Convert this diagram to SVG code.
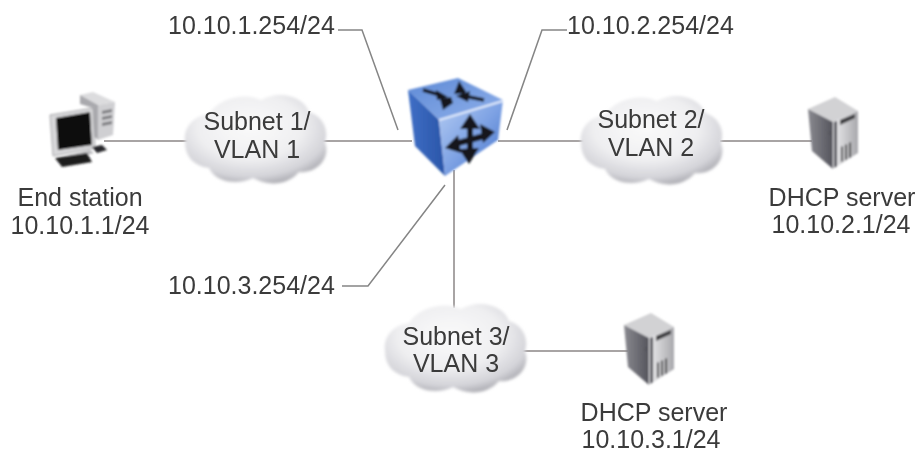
<svg xmlns="http://www.w3.org/2000/svg" width="918" height="454" viewBox="0 0 918 454">
<style>
text{font-family:"Liberation Sans",Arial,sans-serif;font-size:25px;fill:#3a3a3a;text-anchor:middle;filter:url(#tb)}
.l{text-anchor:start}
.c{stroke:#a8a4a4;stroke-width:2;fill:none}
.t{stroke:#858585;stroke-width:1.5;fill:none}
.ar{stroke:#12151c;fill:none}
.hd{fill:#12151c}
</style>
<defs>
<filter id="tb" x="-5%" y="-15%" width="110%" height="130%"><feGaussianBlur stdDeviation="0.45"/></filter>
<filter id="b1" x="-20%" y="-20%" width="140%" height="140%"><feGaussianBlur stdDeviation="0.8"/></filter>
<filter id="b2" x="-20%" y="-20%" width="140%" height="140%"><feGaussianBlur stdDeviation="1.6"/></filter>
<radialGradient id="cl" cx="0.46" cy="0.36" r="0.66"><stop offset="0" stop-color="#fafafa"/><stop offset="0.55" stop-color="#efeff1"/><stop offset="0.85" stop-color="#d4d4d9"/><stop offset="1" stop-color="#aeaeb4"/></radialGradient>
<linearGradient id="top" x1="0" y1="0" x2="1" y2="1"><stop offset="0" stop-color="#5e8ad6"/><stop offset="1" stop-color="#8fb0ea"/></linearGradient>
<linearGradient id="fr" x1="0" y1="0" x2="1" y2="1"><stop offset="0" stop-color="#b5ccf2"/><stop offset="0.5" stop-color="#7fa3e4"/><stop offset="1" stop-color="#3f6fcb"/></linearGradient>
<linearGradient id="sd" x1="0" y1="0" x2="1" y2="0"><stop offset="0" stop-color="#3f6fc6"/><stop offset="1" stop-color="#2a55a8"/></linearGradient>
<linearGradient id="sv" x1="0" y1="0" x2="1" y2="0"><stop offset="0" stop-color="#ececee"/><stop offset="1" stop-color="#a8a8ac"/></linearGradient>
<linearGradient id="sl" x1="0" y1="0" x2="1" y2="0"><stop offset="0" stop-color="#8a8a90"/><stop offset="1" stop-color="#54545c"/></linearGradient>
<g id="cloud"><path filter="url(#b2)" fill="url(#cl)" d="M2 50C0 36 10 24 26 22C36 6 62 0 78 8C96 -2 120 4 126 20C140 24 146 38 142 50C148 66 134 82 116 80C104 94 84 94 70 86C54 94 32 90 26 76C10 74 2 64 2 50Z"/></g>
<g id="server"><g filter="url(#b1)">
<path d="M0 12L27 0L50 14L25 25Z" fill="#d2d2d4"/>
<path d="M0 12L25 25V72L4 54Z" fill="url(#sl)"/>
<path d="M25 25L50 14V56L25 72Z" fill="url(#sv)"/>
<path d="M32 23L47 17V21L32 28Z" fill="#3c3c40"/>
<path d="M26 25L29 24V69L26 71Z" fill="#4a4a52"/>
<path d="M33 50L35 49V64L33 65ZM37 48L39 47V62L37 63ZM41 46L43 45V60L41 61Z" fill="#3c3c40"/>
<circle cx="22" cy="36" r="1.8" fill="#55555c"/>
</g></g>
</defs>

<g id="connectors">
<path class="c" d="M104 141H190M322 141H412M498 141H586M720 141H812M454 170V308M522 351H628"/>
<path class="t" d="M338 30H362L398 130M567 30H542L507 130M342 286H368L445 185"/>
</g>

<g id="end-station"><g filter="url(#b1)">
<path d="M80 95L93 92L115 102L98 105Z" fill="#dcdcde"/>
<path d="M80 95L98 105V140L93 135V108L80 104Z" fill="#a9a9ad"/>
<path d="M98 105L115 102L113 135L98 140Z" fill="#cfcfd2"/>
<path d="M102 111L112 109V112L102 114ZM102 117L112 115V118L102 120ZM102 123L112 121V124L102 126Z" fill="#7a7a7e"/>
<path d="M50 115L93 108L95 148L53 156Z" fill="#d8d8da" stroke="#a5a5a8"/>
<path d="M56 118L90 112L92 145L58 150Z" fill="#0e0e10"/>
<path d="M66 156L90 150L94 153L72 160Z" fill="#bcbcbf"/>
<path d="M55 158L87 153L92 162L62 167Z" fill="#1c1c1e"/>
<path d="M92 147L102 145L107 150L97 153Z" fill="#26262a"/>
</g></g>

<g id="subnet1"><use href="#cloud" x="183" y="92"/><text x="257" y="130">Subnet 1/</text><text x="257" y="158">VLAN 1</text></g>
<g id="subnet2"><use href="#cloud" x="579" y="93"/><text x="651" y="128">Subnet 2/</text><text x="651" y="156">VLAN 2</text></g>
<g id="subnet3"><use href="#cloud" x="383" y="301"/><text x="456" y="345">Subnet 3/</text><text x="456" y="372">VLAN 3</text></g>

<g id="switch"><g filter="url(#b1)">
<path d="M408 90L458 78L503 100L439 120Z" fill="url(#top)"/>
<path d="M408 90L439 120L445 176L415 146Z" fill="url(#sd)"/>
<path d="M439 120L503 100L498 140L445 176Z" fill="url(#fr)"/>
<path d="M439 120L503 101" stroke="#dfe9fb" stroke-width="2" fill="none"/>
<path class="ar" stroke-width="3.5" d="M423 90L440 95M464 96L484 100"/>
<path class="hd" d="M448 97L436 90L437 100ZM454 94L467 93L461 84L459 81ZM456 96L470 91L468 102ZM451 97L440 99L443 110L453 103Z"/>
<path class="ar" stroke-width="6" d="M470 124V152M455 144L484 136"/>
<path class="hd" d="M470 114L480 129L460 129ZM469 164L459 149L479 148ZM445 148L458 135L461 153ZM495 132L480 124L483 143Z"/>
</g></g>

<g id="dhcp2"><use href="#server" x="808" y="97"/><text x="842" y="206">DHCP server</text><text x="841" y="233">10.10.2.1/24</text></g>
<g id="dhcp3"><use href="#server" x="624" y="313"/><text x="654" y="421">DHCP server</text><text x="651" y="448">10.10.3.1/24</text></g>

<g id="labels">
<text x="80" y="206">End station</text><text x="80" y="234">10.10.1.1/24</text>
<text class="l" x="168" y="34">10.10.1.254/24</text>
<text class="l" x="567" y="34">10.10.2.254/24</text>
<text class="l" x="168" y="294">10.10.3.254/24</text>
</g>
</svg>
